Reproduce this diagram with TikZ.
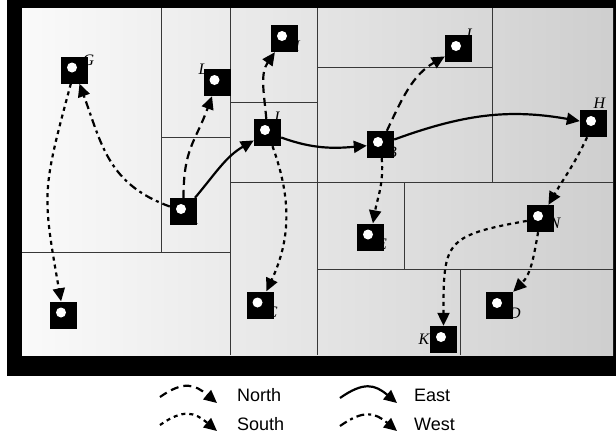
\documentclass[tikz,border=0pt]{standalone}
\usepackage{fontspec}
\setmainfont{Liberation Serif}
\setsansfont{Liberation Sans}
\usetikzlibrary{arrows.meta}
\usetikzlibrary{positioning}
\usetikzlibrary{calc}
\pgfdeclarelayer{background}
\pgfdeclarelayer{tags}
\pgfsetlayers{background,tags,main}

\tikzset{
  cell/.style={fill=black, minimum size=27pt, inner sep=0pt,
    path picture={\fill[white] ([xshift=-2.5pt,yshift=2.5pt]path picture bounding box.center) circle (5pt);}},
  tag/.style={inner sep=0pt, font=\fontsize{16}{16}\selectfont\itshape},
  cellline/.style={draw=black!78, line width=1pt},
  move/.style={line width=2.2pt, -{Triangle[length=13pt,width=12pt]}},
  gonorth/.style={move, dash pattern=on 8pt off 5pt},
  gosouth/.style={move, dash pattern=on 4pt off 4pt},
  goeast/.style={move},
  gowest/.style={move, dash pattern=on 8pt off 4pt on 3pt off 4pt},
  legtext/.style={inner sep=0pt, anchor=west, font=\sffamily\fontsize{18}{18}\selectfont}
}

\begin{document}
\begin{tikzpicture}[x=1pt,y=-1pt]
  \useasboundingbox (0,0) rectangle (616,437);
  \begin{pgfonlayer}{background}
    \fill[white] (0,0) rectangle (616,437);
    % frame and map
    \fill[black] (7,0) rectangle (616,376);
    \shade[left color=black!2, right color=black!19] (22,8) rectangle (613,355);
    % cells
    \draw[cellline] (161,8) -- (161,252);
    \draw[cellline] (230,8) -- (230,355);
    \draw[cellline] (22,252) -- (230,252);
    \draw[cellline] (161,137) -- (230,137);
    \draw[cellline] (230,102) -- (317,102);
    \draw[cellline] (317,8) -- (317,355);
    \draw[cellline] (230,182) -- (613,182);
    \draw[cellline] (317,67) -- (492,67);
    \draw[cellline] (492,8) -- (492,182);
    \draw[cellline] (404,182) -- (404,269);
    \draw[cellline] (317,269) -- (613,269);
    \draw[cellline] (460,269) -- (460,355);
  \end{pgfonlayer}

  % points
  \node[cell] (A) at (183.5,211.5) {};
  \node[cell] (B) at (380.5,144.5) {};
  \node[cell] (C) at (260,305) {};
  \node[cell] (D) at (499.5,305.5) {};
  \node[cell] (E) at (370.5,237) {};
  \node[cell] (F) at (63.5,315) {};
  \node[cell] (G) at (74.5,70) {};
  \node[cell] (H) at (593.5,123.5) {};
  \node[cell] (I) at (458.5,48.5) {};
  \node[cell] (J) at (267.5,132.5) {};
  \node[cell] (K) at (443.5,339.5) {};
  \node[cell] (L) at (217,82.5) {};
  \node[cell] (M) at (284.5,38.5) {};
  \node[cell] (N) at (540.5,218.5) {};

  % labels, half hidden by the points
  \begin{pgfonlayer}{tags}
    \foreach \n/\dx/\dy in {A/9.5/7.5, B/11.5/7.5, C/12/7, D/15.5/7.5, E/11.5/7,
        F/8.5/1, G/14/-10, H/6/-20.5, I/10.5/-14.5, J/8.5/-15.5, K/-19.5/-0.5,
        L/-14/-13.5, M/8.5/7.5, N/14.5/4.5}
      \node[tag] (t\n) at ($(\n)+(\dx,\dy)$) {\n};
  \end{pgfonlayer}

  % neighbours
  \draw[gowest] (A) to[out=160,in=-70,looseness=1.1] (G);
  \draw[gonorth] (A) to[out=90,in=250,looseness=1.2] (L);
  \draw[goeast] (A) to[out=50,in=210] (J);
  \draw[gosouth] (G) to[out=-105,in=100,looseness=1.3] (F);
  \draw[gonorth] (J) to[out=95,in=235] (M);
  \draw[gosouth] (J) to[out=-70,in=65] (C);
  \draw[goeast] (J) to[out=-20,in=185] (B);
  \draw[gonorth] (B) to[out=65,in=210] (I);
  \draw[goeast] (B) to[out=20,in=170] (H);
  \draw[gosouth] (B) to[out=-85,in=80] (E);
  \draw[gosouth] (H) to[out=-115,in=60] (N);
  \draw[gosouth] (N) to[out=190,in=90,looseness=1.6] (K);
  \draw[gosouth] (N) to[out=-100,in=45] (D);

  % legend
  \coordinate (ln0) at (160,397);
  \coordinate (ln1) at (217,403);
  \coordinate (ls0) at (160,425);
  \coordinate (ls1) at (217,431);
  \coordinate (le0) at (340,398);
  \coordinate (le1) at (397,403);
  \coordinate (lw0) at (340,426);
  \coordinate (lw1) at (397,431);
  \draw[gonorth] (ln0) to[out=35,in=140,looseness=1.3] (ln1);
  \draw[gosouth] (ls0) to[out=35,in=140,looseness=1.3] (ls1);
  \draw[goeast] (le0) to[out=35,in=140,looseness=1.3] (le1);
  \draw[gowest] (lw0) to[out=35,in=140,looseness=1.3] (lw1);
  \node[legtext] (tnorth) at (237,395) {North};
  \node[legtext] (tsouth) at (237,424) {South};
  \node[legtext] (teast) at (414,395) {East};
  \node[legtext] (twest) at (414,424) {West};
\end{tikzpicture}
\end{document}
